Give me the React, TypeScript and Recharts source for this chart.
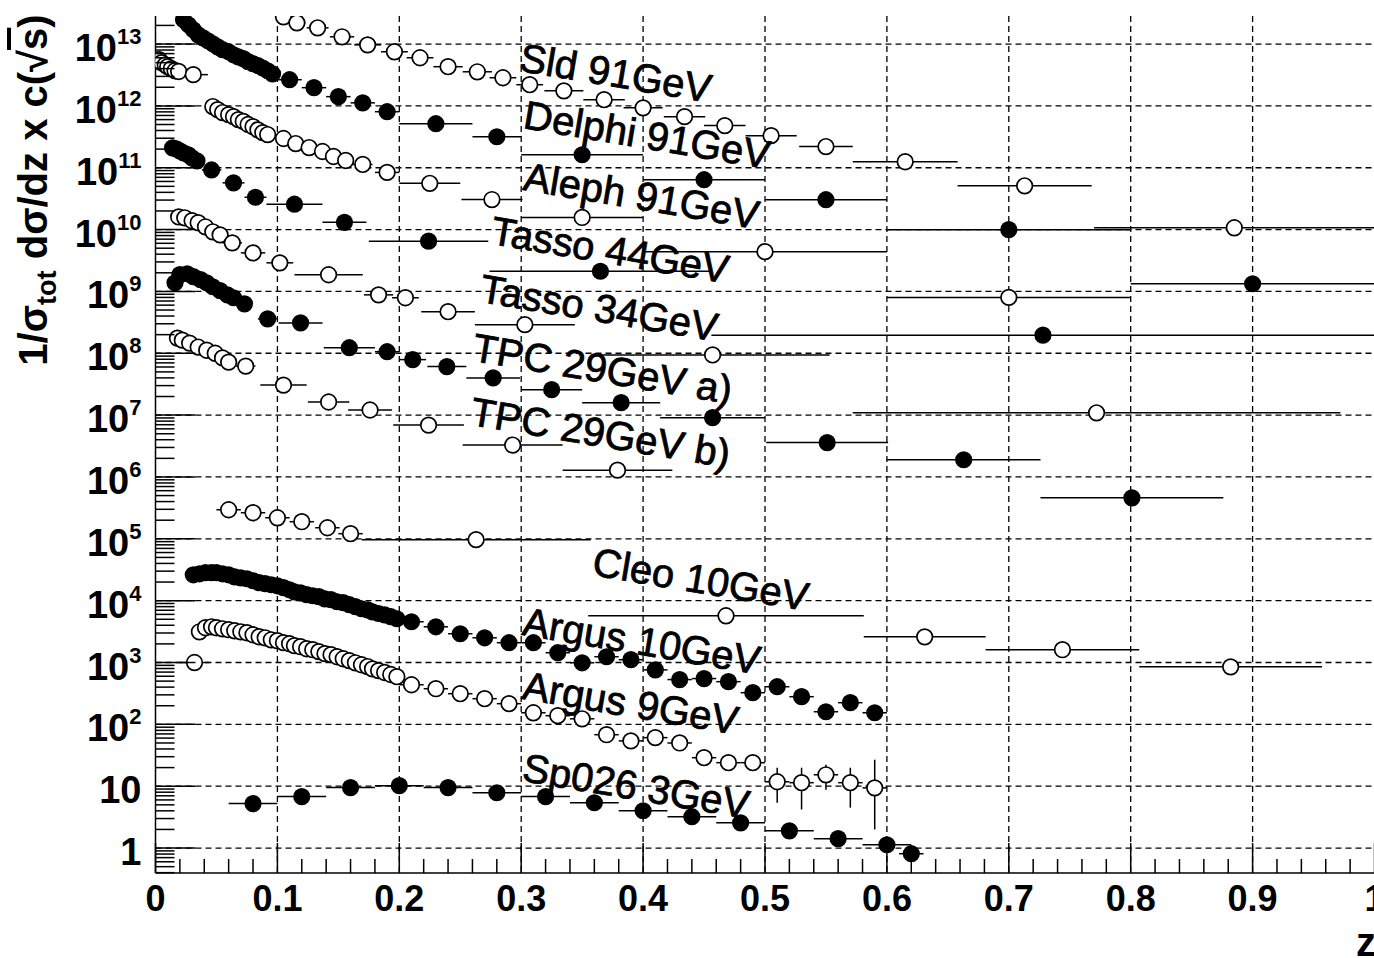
import React from 'react';
import {
  ScatterChart,
  Scatter,
  XAxis,
  YAxis,
  CartesianGrid,
  ErrorBar,
  ReferenceDot,
} from 'recharts';

const CHART_W = 1380;
const CHART_H = 958;
const Y_MIN = 0.395;
const Y_MAX = 2.84e13;
const FONT = '"Liberation Sans", Arial, Helvetica, sans-serif';

// Sld 91 GeV (open)
const sldZ = [0.003, 0.005, 0.008, 0.01, 0.013, 0.016, 0.019, 0.031, 0.105, 0.116, 0.133, 0.153, 0.174, 0.196, 0.217, 0.24, 0.264, 0.285, 0.307, 0.335, 0.368, 0.4, 0.434, 0.467, 0.505, 0.55, 0.615, 0.713, 0.885];
const sldV = [5.6e12, 5.0e12, 4.6e12, 4.3e12, 4.0e12, 3.7e12, 3.6e12, 3.2e12, 2.75e13, 2.2e13, 1.83e13, 1.31e13, 9.7e12, 7.5e12, 6.0e12, 4.3e12, 3.56e12, 2.85e12, 2.2e12, 1.75e12, 1.26e12, 9.3e11, 6.7e11, 4.8e11, 3.3e11, 2.2e11, 1.25e11, 5.1e10, 1.07e10];
const sldDz = [0, 0, 0, 0, 0, 0, 0, 0.012, 0.006, 0.007, 0.009, 0.01, 0.011, 0.011, 0.011, 0.012, 0.012, 0.011, 0.011, 0.016, 0.017, 0.016, 0.017, 0.017, 0.021, 0.022, 0.043, 0.055, 0.115];

// Delphi 91 GeV (filled)
const delphiZ = [0.023, 0.027, 0.031, 0.035, 0.039, 0.043, 0.047, 0.051, 0.055, 0.06, 0.064, 0.068, 0.072, 0.076, 0.08, 0.084, 0.088, 0.092, 0.096, 0.11, 0.13, 0.15, 0.17, 0.19, 0.23, 0.28, 0.35, 0.45, 0.55, 0.7, 0.9];
const delphiV = [2.47e13, 2.05e13, 1.7e13, 1.41e13, 1.26e13, 1.13e13, 1.01e13, 9.0e12, 8.1e12, 7.5e12, 6.7e12, 6.2e12, 5.8e12, 5.2e12, 4.8e12, 4.5e12, 4.1e12, 3.7e12, 3.3e12, 2.65e12, 1.97e12, 1.41e12, 1.12e12, 8.05e11, 5.15e11, 3.17e11, 1.62e11, 6.4e10, 3.04e10, 9.96e9, 1.33e9];
const delphiDz = [0, 0, 0, 0, 0, 0, 0, 0, 0, 0, 0, 0, 0, 0, 0, 0, 0, 0, 0, 0.01, 0.01, 0.01, 0.01, 0.01, 0.03, 0.02, 0.05, 0.05, 0.05, 0.1, 0.1];

// Aleph 91 GeV (open)
const alephZ = [0.047, 0.051, 0.055, 0.06, 0.064, 0.068, 0.072, 0.076, 0.08, 0.084, 0.088, 0.092, 0.105, 0.115, 0.126, 0.137, 0.146, 0.156, 0.17, 0.19, 0.225, 0.276, 0.35, 0.5, 0.7];
const alephV = [9.75e11, 8.7e11, 7.8e11, 7.2e11, 6.7e11, 6.0e11, 5.6e11, 5.0e11, 4.6e11, 4.1e11, 3.7e11, 3.44e11, 2.97e11, 2.46e11, 2.12e11, 1.83e11, 1.52e11, 1.31e11, 1.13e11, 8.4e10, 5.6e10, 3.06e10, 1.57e10, 4.4e9, 8.0e8];
const alephDz = [0, 0, 0, 0, 0, 0, 0, 0, 0, 0, 0, 0, 0.006, 0.006, 0.006, 0.006, 0.005, 0.006, 0.008, 0.01, 0.025, 0.025, 0.05, 0.1, 0.1];

// Tasso 44 GeV (filled)
const tasso44Z = [0.014, 0.017, 0.02, 0.023, 0.027, 0.03, 0.034, 0.046, 0.064, 0.082, 0.114, 0.155, 0.224, 0.365, 0.728];
const tasso44V = [2.1e11, 2.02e11, 1.87e11, 1.74e11, 1.61e11, 1.44e11, 1.29e11, 9.2e10, 5.7e10, 3.33e10, 2.57e10, 1.31e10, 6.5e9, 2.12e9, 1.96e8];
const tasso44Dz = [0, 0, 0, 0, 0, 0, 0, 0.008, 0.009, 0.009, 0.023, 0.018, 0.049, 0.091, 0.272];

// Tasso 34 GeV (open)
const tasso34Z = [0.019, 0.024, 0.03, 0.035, 0.041, 0.047, 0.053, 0.063, 0.08, 0.102, 0.142, 0.183, 0.205, 0.24, 0.303, 0.457, 0.772];
const tasso34V = [1.6e10, 1.55e10, 1.39e10, 1.29e10, 1.11e10, 9.2e9, 8.2e9, 6.1e9, 4.2e9, 2.9e9, 1.86e9, 8.8e8, 7.9e8, 4.7e8, 2.9e8, 9.4e7, 1.09e7];
const tasso34Dz = [0, 0, 0, 0, 0, 0, 0, 0.008, 0.01, 0.011, 0.028, 0.012, 0.011, 0.022, 0.041, 0.096, 0.2];

// TPC 29 GeV a) (filled)
const tpcAZ = [0.016, 0.02, 0.026, 0.031, 0.037, 0.042, 0.047, 0.053, 0.059, 0.064, 0.073, 0.092, 0.119, 0.159, 0.19, 0.211, 0.239, 0.277, 0.325, 0.382, 0.457, 0.551, 0.663, 0.801];
const tpcAV = [1.38e9, 1.87e9, 1.93e9, 1.73e9, 1.55e9, 1.38e9, 1.19e9, 1.03e9, 8.8e8, 7.9e8, 6.3e8, 3.6e8, 3.1e8, 1.23e8, 1.06e8, 7.9e7, 6.1e7, 4.0e7, 2.58e7, 1.59e7, 9.1e6, 3.6e6, 1.9e6, 4.6e5];
const tpcADz = [0, 0, 0, 0, 0, 0, 0, 0, 0, 0, 0, 0.008, 0.018, 0.021, 0.01, 0.011, 0.016, 0.022, 0.025, 0.032, 0.043, 0.05, 0.063, 0.075];

// TPC 29 GeV b) (open)
const tpcBZ = [0.018, 0.022, 0.028, 0.035, 0.042, 0.049, 0.055, 0.06, 0.074, 0.105, 0.142, 0.176, 0.224, 0.293, 0.379];
const tpcBV = [1.76e8, 1.63e8, 1.46e8, 1.26e8, 1.12e8, 1.0e8, 8.4e7, 7.2e7, 6.2e7, 3.06e7, 1.63e7, 1.21e7, 6.9e6, 3.28e6, 1.29e6];
const tpcBDz = [0, 0, 0, 0, 0, 0, 0, 0, 0.008, 0.019, 0.017, 0.018, 0.029, 0.041, 0.045];

// Cleo 10 GeV (open)
const cleoZ = [0.06, 0.08, 0.1, 0.12, 0.141, 0.16, 0.263, 0.468, 0.631, 0.744, 0.882];
const cleoV = [2.95e5, 2.64e5, 2.19e5, 1.89e5, 1.51e5, 1.21e5, 9.7e4, 5.7e3, 2.6e3, 1.61e3, 8.5e2];
const cleoDz = [0.01, 0.01, 0.01, 0.01, 0.01, 0.01, 0.094, 0.113, 0.05, 0.063, 0.075];

// Argus 10 GeV (filled)
const argus10Z = [0.031, 0.036, 0.041, 0.046, 0.05, 0.055, 0.06, 0.065, 0.07, 0.075, 0.08, 0.085, 0.09, 0.095, 0.1, 0.105, 0.11, 0.114, 0.119, 0.124, 0.129, 0.134, 0.139, 0.144, 0.149, 0.154, 0.159, 0.164, 0.169, 0.174, 0.178, 0.183, 0.188, 0.193, 0.198, 0.21, 0.23, 0.25, 0.27, 0.29, 0.31, 0.33, 0.35, 0.37, 0.39, 0.41, 0.43, 0.45, 0.47, 0.49, 0.51, 0.53, 0.55, 0.57, 0.59];
const argus10V = [2.62e4, 2.72e4, 2.83e4, 2.83e4, 2.83e4, 2.72e4, 2.62e4, 2.43e4, 2.34e4, 2.26e4, 2.1e4, 1.95e4, 1.88e4, 1.81e4, 1.74e4, 1.62e4, 1.5e4, 1.39e4, 1.34e4, 1.25e4, 1.2e4, 1.16e4, 1.07e4, 1.04e4, 9.6e3, 9.3e3, 8.6e3, 8.0e3, 7.4e3, 7.1e3, 6.6e3, 6.2e3, 5.9e3, 5.5e3, 5.1e3, 4.56e3, 3.78e3, 2.92e3, 2.51e3, 2.09e3, 2.09e3, 1.44e3, 9.9e2, 1.24e3, 1.11e3, 7.6e2, 5.3e2, 5.5e2, 4.9e2, 3.25e2, 4.06e2, 2.8e2, 1.6e2, 2.24e2, 1.54e2];
const argus10Dz = [0, 0, 0, 0, 0, 0, 0, 0, 0, 0, 0, 0, 0, 0, 0, 0, 0, 0, 0, 0, 0, 0, 0, 0, 0, 0, 0, 0, 0, 0, 0, 0, 0, 0, 0, 0.01, 0.01, 0.01, 0.01, 0.01, 0.01, 0.01, 0.01, 0.01, 0.01, 0.01, 0.01, 0.01, 0.01, 0.01, 0.01, 0.01, 0.01, 0.01, 0.01];

// Argus 9 GeV (open)
const argus9Z = [0.032, 0.036, 0.041, 0.046, 0.05, 0.055, 0.06, 0.065, 0.07, 0.075, 0.08, 0.085, 0.09, 0.095, 0.1, 0.105, 0.11, 0.114, 0.119, 0.124, 0.129, 0.134, 0.139, 0.144, 0.149, 0.154, 0.159, 0.164, 0.169, 0.174, 0.178, 0.183, 0.188, 0.193, 0.198, 0.21, 0.23, 0.25, 0.27, 0.29, 0.31, 0.33, 0.35, 0.37, 0.39, 0.41, 0.43, 0.45, 0.47, 0.49, 0.51, 0.53, 0.55, 0.57, 0.59];
const argus9V = [1.0e3, 3.14e3, 3.65e3, 3.78e3, 3.65e3, 3.51e3, 3.39e3, 3.26e3, 3.14e3, 3.03e3, 2.81e3, 2.61e3, 2.51e3, 2.33e3, 2.25e3, 2.09e3, 2.01e3, 1.87e3, 1.8e3, 1.67e3, 1.61e3, 1.5e3, 1.39e3, 1.34e3, 1.24e3, 1.15e3, 1.07e3, 9.9e2, 9.2e2, 8.6e2, 7.9e2, 7.4e2, 6.9e2, 6.4e2, 5.9e2, 4.37e2, 3.77e2, 3.13e2, 2.6e2, 2.16e2, 1.54e2, 1.38e2, 1.23e2, 68, 54, 61, 50, 28.9, 24, 24, 11.8, 11.4, 15.3, 11.4, 9.4];
const argus9Dz = [0.012, 0, 0, 0, 0, 0, 0, 0, 0, 0, 0, 0, 0, 0, 0, 0, 0, 0, 0, 0, 0, 0, 0, 0, 0, 0, 0, 0, 0, 0, 0, 0, 0, 0, 0, 0.01, 0.01, 0.01, 0.01, 0.01, 0.01, 0.01, 0.01, 0.01, 0.01, 0.01, 0.01, 0.01, 0.01, 0.01, 0.01, 0.01, 0.01, 0.01, 0.01];
// vertical errors on the last five Argus 9 GeV points (below, above)
const argus9TailErrLo = [6.4, 7.2, 6.5, 6.9, 7.4];
const argus9TailErrHi = [8.1, 8.5, 6.9, 8.5, 17.4];

// Sp026 3 GeV (filled)
const sp026Z = [0.08, 0.12, 0.16, 0.2, 0.24, 0.28, 0.32, 0.36, 0.4, 0.44, 0.48, 0.52, 0.56, 0.6, 0.62];
const sp026V = [5.24, 6.8, 9.5, 10.2, 9.5, 7.84, 6.8, 5.4, 4.01, 3.21, 2.56, 1.9, 1.42, 1.13, 0.81];
const sp026Dz = [0.02, 0.02, 0.02, 0.02, 0.02, 0.02, 0.02, 0.02, 0.02, 0.02, 0.02, 0.02, 0.02, 0.02, 0.01];

// experiment captions, anchored in data units (left end of the baseline)
const captionText = ['Sld 91GeV', 'Delphi 91GeV', 'Aleph 91GeV', 'Tasso 44GeV', 'Tasso 34GeV', 'TPC 29GeV a)', 'TPC 29GeV b)', 'Cleo 10GeV', 'Argus 10GeV', 'Argus 9GeV', 'Sp026 3GeV'];
const captionZ = [0.2974, 0.3006, 0.3006, 0.274, 0.265, 0.2588, 0.2572, 0.3573, 0.2998, 0.2998, 0.2998];
const captionV = [3.7e12, 4.4e11, 4.4e10, 5.9e9, 6.8e8, 7.6e7, 7.0e6, 2.6e4, 2.8e3, 2.6e2, 12.2];

const X_TICKS = Array.from({ length: 51 }, (_, i) => +(i * 0.02).toFixed(2));
const X_GRID = [0.1, 0.2, 0.3, 0.4, 0.5, 0.6, 0.7, 0.8, 0.9];
const DECADES = Array.from({ length: 14 }, (_, d) => Math.pow(10, d));
const Y_TICKS: number[] = [];
for (let d = -1; d <= 13; d++) {
  for (let k = 1; k <= 9; k++) {
    const t = k * Math.pow(10, d);
    if (t >= Y_MIN && t <= Y_MAX) Y_TICKS.push(t);
  }
}

type Point = { z: number; v: number; ex: number[]; ey: number[] };

const makePoints = (zs: number[], vs: number[], dz: number[]): Point[] =>
  zs.map((z, i) => ({ z, v: vs[i], ex: [dz[i], dz[i]], ey: [0, 0] }));

const argus9 = makePoints(argus9Z, argus9V, argus9Dz).map((p, i, arr) => {
  const k = i - (arr.length - argus9TailErrLo.length);
  return k >= 0 ? { ...p, ey: [argus9TailErrLo[k], argus9TailErrHi[k]] } : p;
});

const SERIES = [
  { key: 'sld', data: makePoints(sldZ, sldV, sldDz), open: true },
  { key: 'delphi', data: makePoints(delphiZ, delphiV, delphiDz), open: false },
  { key: 'aleph', data: makePoints(alephZ, alephV, alephDz), open: true },
  { key: 'tasso44', data: makePoints(tasso44Z, tasso44V, tasso44Dz), open: false },
  { key: 'tasso34', data: makePoints(tasso34Z, tasso34V, tasso34Dz), open: true },
  { key: 'tpcA', data: makePoints(tpcAZ, tpcAV, tpcADz), open: false },
  { key: 'tpcB', data: makePoints(tpcBZ, tpcBV, tpcBDz), open: true },
  { key: 'cleo', data: makePoints(cleoZ, cleoV, cleoDz), open: true },
  { key: 'argus10', data: makePoints(argus10Z, argus10V, argus10Dz), open: false },
  { key: 'argus9', data: argus9, open: true, yErr: true },
  { key: 'sp026', data: makePoints(sp026Z, sp026V, sp026Dz), open: false },
];

const R = 8.6;

const OpenDot = (p: any) =>
  p.cx == null ? null : <circle cx={p.cx} cy={p.cy} r={R - 0.8} fill="#fff" stroke="#000" strokeWidth={1.7} />;

const FilledDot = (p: any) =>
  p.cx == null ? null : <circle cx={p.cx} cy={p.cy} r={R} fill="#000" />;

const XTick = (props: any) => {
  const { x, y, payload } = props;
  const v = payload.value as number;
  const major = Math.abs(v * 10 - Math.round(v * 10)) < 1e-6;
  const label = v === 0 ? '0' : v === 1 ? '1' : v.toFixed(1);
  return (
    <g>
      <line x1={x} x2={x} y1={y} y2={y - (major ? 30 : 14)} stroke="#000" strokeWidth={1.5} />
      {major && (
        <text x={x} y={y + 38} textAnchor="middle" fontFamily={FONT} fontWeight="bold" fontSize={36} fill="#000">
          {label}
        </text>
      )}
    </g>
  );
};

const YTick = (props: any) => {
  const { x, y, payload } = props;
  const v = payload.value as number;
  const e = Math.round(Math.log10(v));
  const major = Math.abs(v - Math.pow(10, e)) / v < 1e-6;
  return (
    <g>
      <line x1={x} x2={x + (major ? 40 : 19)} y1={y} y2={y} stroke="#000" strokeWidth={1.5} />
      {major && (
        <text x={x - 14} y={y + 17} textAnchor="end" fontFamily={FONT} fontWeight="bold" fontSize={38} fill="#000">
          {e === 0 ? '1' : '10'}
          {e > 1 && (
            <tspan dy={-17} fontSize={22}>
              {e}
            </tspan>
          )}
        </text>
      )}
    </g>
  );
};

const Caption = (text: string) => (p: any) =>
  p.cx == null ? null : (
    <text
      x={p.cx}
      y={p.cy}
      transform={`rotate(9.5 ${p.cx} ${p.cy})`}
      fontFamily={FONT}
      fontSize={40}
      fill="#000"
      stroke="#000"
      strokeWidth={0.8}
    >
      {text}
    </text>
  );

export default function App() {
  return (
    <div style={{ position: 'absolute', left: 0, top: 0, width: 1374, height: 958, overflow: 'hidden', background: '#fff' }}>
      <ScatterChart width={CHART_W} height={CHART_H} margin={{ top: 16, right: 5.5, bottom: 0, left: 0 }}>
        <CartesianGrid
          horizontalValues={DECADES}
          verticalValues={X_GRID}
          stroke="#000"
          strokeWidth={1.3}
          strokeDasharray="6 4"
        />
        <XAxis
          type="number"
          dataKey="z"
          domain={[0, 1]}
          allowDataOverflow
          ticks={X_TICKS}
          interval={0}
          tick={(p: any) => <XTick {...p} />}
          tickLine={false}
          tickSize={0}
          tickMargin={0}
          height={85}
          axisLine={{ stroke: '#000', strokeWidth: 1.5 }}
        />
        <XAxis
          xAxisId="top"
          orientation="top"
          type="number"
          domain={[0, 1]}
          height={0}
          tick={false}
          tickLine={false}
          axisLine={{ stroke: '#000', strokeWidth: 1.5 }}
        />
        <YAxis
          type="number"
          dataKey="v"
          scale="log"
          domain={[Y_MIN, Y_MAX]}
          allowDataOverflow
          ticks={Y_TICKS}
          interval={0}
          tick={(p: any) => <YTick {...p} />}
          tickLine={false}
          tickSize={0}
          tickMargin={0}
          width={155.5}
          axisLine={{ stroke: '#000', strokeWidth: 1.5 }}
        />
        {SERIES.map((s) => (
          <Scatter key={s.key} name={s.key} data={s.data} shape={s.open ? OpenDot : FilledDot} isAnimationActive={false}>
            <ErrorBar dataKey="ex" direction="x" width={0} stroke="#000" strokeWidth={1.5} isAnimationActive={false} />
            {s.yErr && (
              <ErrorBar dataKey="ey" direction="y" width={0} stroke="#000" strokeWidth={1.5} isAnimationActive={false} />
            )}
          </Scatter>
        ))}
        {captionText.map((t, i) => (
          <ReferenceDot key={t} x={captionZ[i]} y={captionV[i]} r={0} ifOverflow="visible" shape={Caption(t)} />
        ))}
      </ScatterChart>
      <svg width={1374} height={958} style={{ position: 'absolute', left: 0, top: 0, pointerEvents: 'none' }}>
        <text
          x={47}
          y={190}
          transform="rotate(-90 47 190)"
          textAnchor="middle"
          fontFamily={FONT}
          fontWeight="bold"
          fontSize={40}
          fill="#000"
        >
          1/σ
          <tspan dy={9} fontSize={27}>
            tot
          </tspan>
          <tspan dy={-9}> dσ/dz x c(√</tspan>
          <tspan textDecoration="overline">s</tspan>)
        </text>
        <text x={1356} y={956} fontFamily={FONT} fontWeight="bold" fontSize={40} fill="#000">
          z
        </text>
      </svg>
    </div>
  );
}
